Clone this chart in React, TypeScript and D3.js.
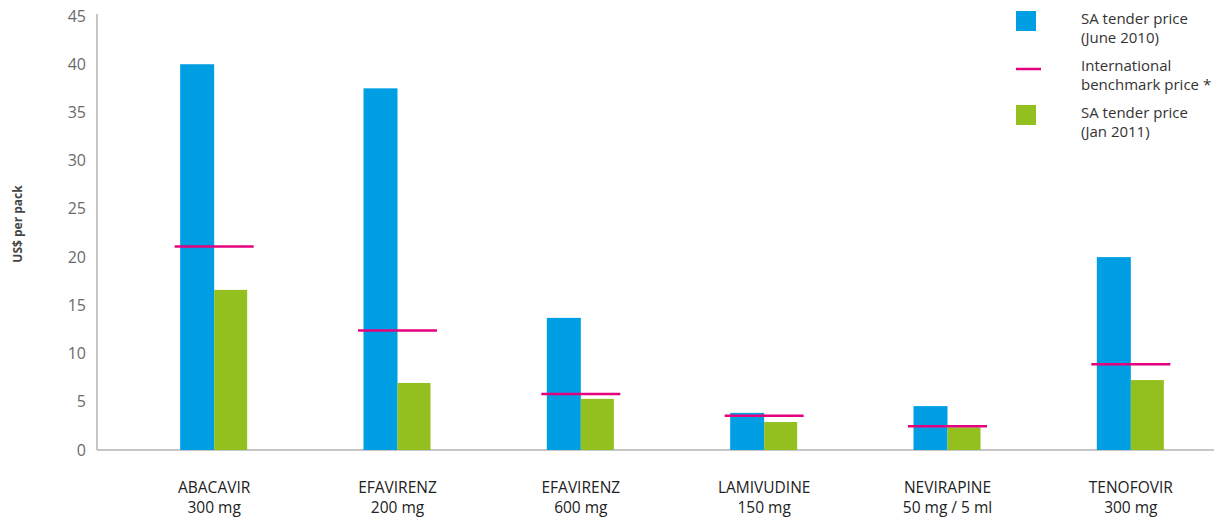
import React from 'react';
import * as d3 from 'd3';

const categories = ['ABACAVIR|300 mg', 'EFAVIRENZ|200 mg', 'EFAVIRENZ|600 mg', 'LAMIVUDINE|150 mg', 'NEVIRAPINE|50 mg / 5 ml', 'TENOFOVIR|300 mg'];
const tender2010 = [40, 37.5, 13.7, 3.85, 4.55, 20];
const benchmark = [21.1, 12.4, 5.8, 3.55, 2.45, 8.9];
const tender2011 = [16.6, 6.95, 5.3, 2.9, 2.35, 7.25];
const yTicks = [0, 5, 10, 15, 20, 25, 30, 35, 40, 45];

const legendItems = [
  { kind: 'rect', color: '#009fe3', lines: ['SA tender price', '(June 2010)'] },
  { kind: 'line', color: '#e5007d', lines: ['International', 'benchmark price *'] },
  { kind: 'rect', color: '#93c01f', lines: ['SA tender price', '(Jan 2011)'] },
];

const width = 1214;
const height = 517;
const axisX = 97;
const font = '"Open Sans", sans-serif';

const App: React.FC = () => {
  const y = d3.scaleLinear().domain([0, 45]).range([450, 16]);
  const x = d3.scaleBand().domain(categories).range([122.5, 1222.5]);
  const barW = 34;
  const halfLine = 39.5;

  return (
    <svg width={width} height={height} style={{ position: 'absolute', left: 0, top: 0, background: '#fff' }}>
      {/* axis */}
      <line x1={axisX} x2={axisX} y1={14} y2={y(0)} stroke="#b3b3b3" strokeWidth={1.5} />
      <line x1={axisX} x2={width} y1={y(0)} y2={y(0)} stroke="#b3b3b3" strokeWidth={1.5} />
      {yTicks.map(t => (
        <text key={t} x={86} y={y(t)} dy="0.35em" textAnchor="end" fontFamily={font} fontSize={16} fill="#6b6b6b">
          {t}
        </text>
      ))}
      <text transform="translate(22,224) rotate(-90)" textAnchor="middle" fontFamily={font} fontWeight="bold" fontSize={12} fill="#444">
        US$ per pack
      </text>

      {categories.map((c, i) => {
        const cx = (x(c) as number) + x.bandwidth() / 2;
        const [l1, l2] = c.split('|');
        return (
          <g key={c}>
            <rect x={cx - barW} y={y(tender2010[i])} width={barW} height={y(0) - y(tender2010[i])} fill="#009fe3" />
            <rect x={cx} y={y(tender2011[i])} width={barW - 1} height={y(0) - y(tender2011[i])} fill="#93c01f" />
            <line x1={cx - halfLine} x2={cx + halfLine} y1={y(benchmark[i])} y2={y(benchmark[i])} stroke="#e5007d" strokeWidth={2.5} />
            <text x={cx} y={493} textAnchor="middle" fontFamily={font} fontSize={15.5} fill="#222">{l1}</text>
            <text x={cx} y={513} textAnchor="middle" fontFamily={font} fontSize={15.5} fill="#222">{l2}</text>
          </g>
        );
      })}

      {legendItems.map((d, i) => {
        const top = 11 + i * 47;
        return (
          <g key={i}>
            {d.kind === 'rect'
              ? <rect x={1016} y={top} width={20} height={20} fill={d.color} />
              : <line x1={1016} x2={1041} y1={top + 11} y2={top + 11} stroke={d.color} strokeWidth={2.5} />}
            {d.lines.map((t, j) => (
              <text key={j} x={1081} y={top + 13 + j * 19} fontFamily={font} fontSize={15} fill="#333">{t}</text>
            ))}
          </g>
        );
      })}
    </svg>
  );
};

export default App;
